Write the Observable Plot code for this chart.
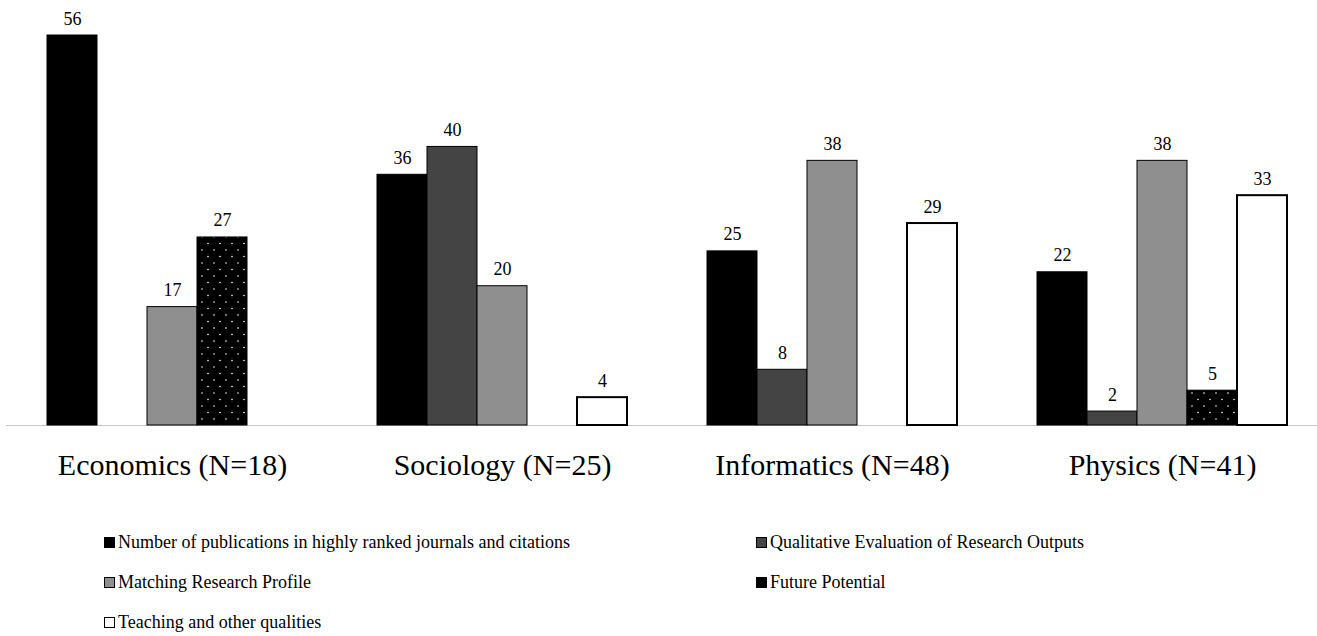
<!DOCTYPE html>
<html>
<head>
<meta charset="utf-8">
<script src="https://cdn.jsdelivr.net/npm/d3@7"></script>
<script src="https://cdn.jsdelivr.net/npm/@observablehq/plot@0.6"></script>
<style>
  body { margin: 0; background: #fff; font-family: "Liberation Serif", "Times New Roman", serif; color: #000; }
  #legend { display: grid; grid-template-columns: 652px auto; padding-left: 104px; margin-top: 27px; font-size: 18px; }
  #legend .item { height: 40px; display: flex; align-items: center; white-space: nowrap; }
  #legend svg { margin-right: 3px; flex: none; }
</style>
</head>
<body>
<div id="chart"></div>
<div id="legend"></div>
<script>
// Disciplines (x groups) and evaluation criteria (series)
const groups = ["Economics (N=18)", "Sociology (N=25)", "Informatics (N=48)", "Physics (N=41)"];
const series = [
  "Number of publications in highly ranked journals and citations",
  "Qualitative Evaluation of Research Outputs",
  "Matching Research Profile",
  "Future Potential",
  "Teaching and other qualities"
];

// Values per criterion, one entry per discipline (null = not mentioned)
const publications = [56, 36, 25, 22];
const qualitative = [null, 40, 8, 2];
const matching = [17, 20, 38, 38];
const futurePotential = [27, null, null, 5];
const teaching = [null, 4, 29, 33];

const seriesValues = [publications, qualitative, matching, futurePotential, teaching];
const fills = ["#000000", "#444444", "#8f8f8f", "url(#dots)", "#ffffff"];

const rows = [];
groups.forEach((g, i) => series.forEach((s, j) => {
  const v = seriesValues[j][i];
  if (v != null) rows.push({group: g, series: s, value: v});
}));

const chart = Plot.plot({
  width: 1317,
  height: 495,
  marginTop: 35,
  marginBottom: 70,
  marginLeft: 16,
  marginRight: 0,
  style: {fontFamily: "Liberation Serif", fontSize: "18px", background: "#fff", color: "#000"},
  fx: {domain: groups, paddingInner: 80 / 330, paddingOuter: 30.5 / 330, align: 31 / 61, round: false, axis: null, label: null},
  x: {domain: series, padding: 0, round: false, axis: null},
  y: {domain: [0, 56], axis: null},
  color: {domain: series, range: fills},
  marks: [
    Plot.ruleY([0], {stroke: "#c6c6c6", insetLeft: -41, insetRight: -41}),
    Plot.barY(rows, {
      fx: "group", x: "series", y: "value", fill: "series",
      stroke: "#000",
      strokeWidth: d => d.series === series[4] ? 2 : 1
    }),
    Plot.text(rows, {fx: "group", x: "series", y: "value", text: "value", lineAnchor: "bottom", dy: -11, fill: "#000"}),
    Plot.text(groups, {fx: d => d, text: d => d, frameAnchor: "bottom", lineAnchor: "middle", dy: 40, fontSize: 30, fill: "#000"})
  ]
});

// Dotted fill used for the "Future Potential" bars
const defs = d3.select(chart).insert("defs", ":first-child");
const pat = defs.append("pattern").attr("id", "dots")
  .attr("patternUnits", "userSpaceOnUse").attr("width", 12).attr("height", 13);
pat.append("rect").attr("width", 12).attr("height", 13).attr("fill", "#000");
pat.append("circle").attr("cx", 3).attr("cy", 3).attr("r", 0.8).attr("fill", "#fff");
pat.append("circle").attr("cx", 9).attr("cy", 9.5).attr("r", 0.8).attr("fill", "#fff");

document.getElementById("chart").appendChild(chart);

// Legend below the chart
const legend = d3.select("#legend");
series.forEach((s, j) => {
  const item = legend.append("div").attr("class", "item");
  const sw = item.append("svg").attr("width", 11).attr("height", 11);
  sw.append("rect").attr("x", 0.5).attr("y", 0.5).attr("width", 10).attr("height", 10)
    .attr("fill", fills[j] === "url(#dots)" ? "#000" : fills[j]).attr("stroke", "#000");
  item.append("span").text(s);
});
</script>
</body>
</html>
